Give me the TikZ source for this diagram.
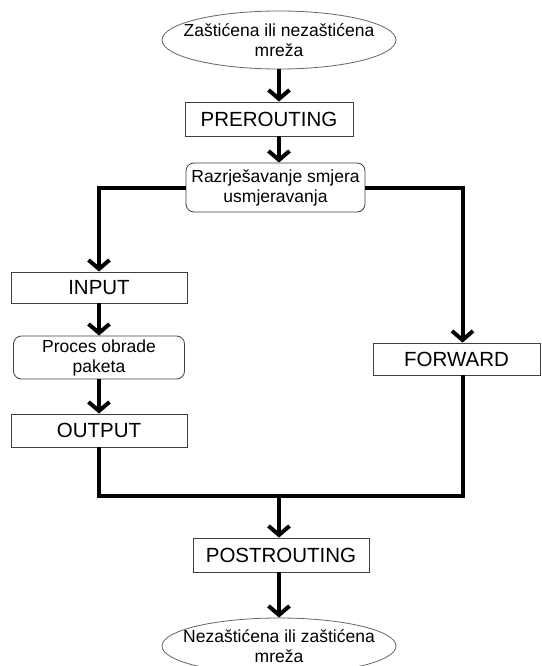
\documentclass[tikz,border=0pt]{standalone}
\usepackage{fontspec}
\setmainfont{Liberation Sans}
\usetikzlibrary{shapes.geometric,arrows.meta}
\begin{document}
\begin{tikzpicture}[x=1pt,y=-1pt,
  box/.style={draw=black!75, line width=0.8pt, inner sep=0pt, font=\fontsize{20.5}{23}\selectfont},
  roundbox/.style={box, rounded corners=8pt, align=center, font=\fontsize{17.5}{20}\selectfont},
  oval/.style={ellipse, draw=black!60, line width=0.8pt, inner xsep=-15pt, inner ysep=-4pt, align=center, font=\fontsize{17.5}{20}\selectfont},
  flow/.style={line width=4pt, -{Straight Barb[length=9pt,width=21pt]}},
  link/.style={line width=4pt}]
\useasboundingbox (0,0) rectangle (541,666);
% ulaz
\node [oval, minimum width=234, minimum height=58] (net1) at (279,40) {Zaštićena ili nezaštićena\\mreža};
\node [box, minimum width=168, minimum height=34] (pre) at (269,119) {PREROUTING};
\node [roundbox, minimum width=179, minimum height=49] (route) at (275.5,187.5) {Razrješavanje smjera\\usmjeravanja};
% lijeva grana
\node [box, minimum width=176, minimum height=31] (in) at (99,287.5) {INPUT};
\node [roundbox, minimum width=171, minimum height=43] (proc) at (99,357.5) {Proces obrade\\paketa};
\node [box, minimum width=176, minimum height=33] (out) at (99,430.5) {OUTPUT};
% desna grana
\node [box, minimum width=167, minimum height=32] (fwd) at (456.5,359) {FORWARD};
% izlaz
\node [box, minimum width=176, minimum height=34] (post) at (281,555) {POSTROUTING};
\node [oval, minimum width=234, minimum height=56] (net2) at (279,646) {Nezaštićena ili zaštićena\\mreža};
\coordinate (join) at (279,496);

\draw [flow] (net1.south) -- (net1.south |- pre.north);
\draw [flow] (pre.south -| net1.south) -- (route.north -| net1.south);
\draw [flow] (route.west) -| (in.north);
\draw [flow] (route.east) -| ([xshift=6pt]fwd.north);
\draw [flow] (in.south) -- (proc.north);
\draw [flow] (proc.south) -- (out.north);
\draw [link] (out.south) |- (join) -| ([xshift=6pt]fwd.south);
\draw [flow] (join) -- (join |- post.north);
\draw [flow] (post.south -| join) -- (net2.north);
\end{tikzpicture}
\end{document}
